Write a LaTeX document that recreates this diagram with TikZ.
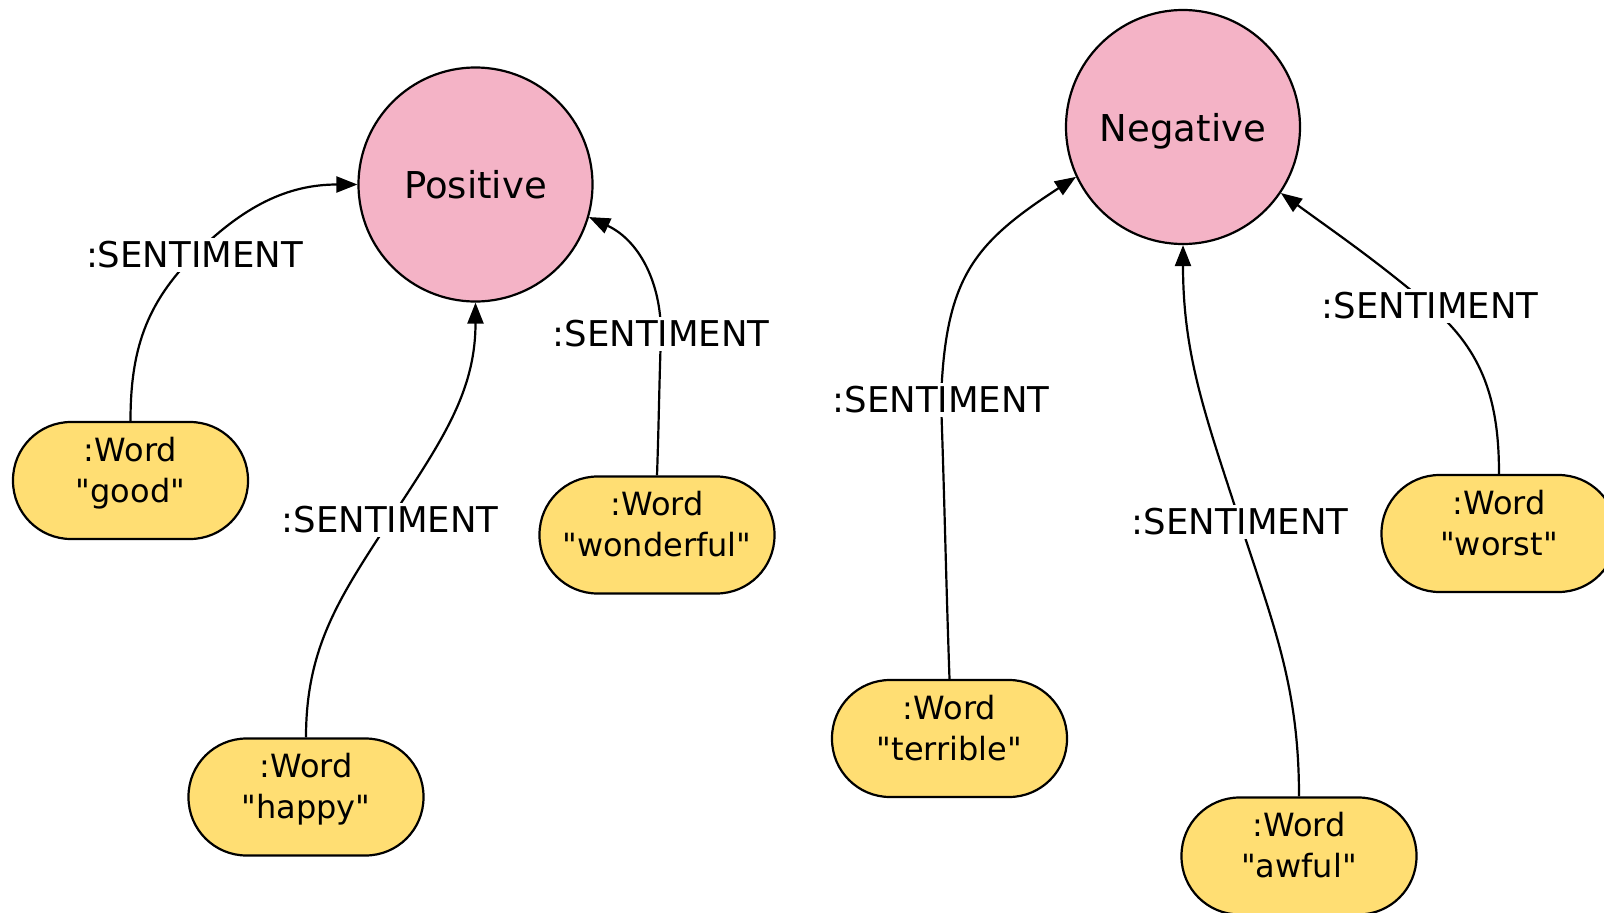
\documentclass[tikz,border=0pt]{standalone}
\usepackage{fontspec}
\setmainfont{DejaVu Sans}[Ligatures=TeXOff]
\usetikzlibrary{arrows.meta}
\definecolor{pinkfill}{RGB}{244,179,198}
\definecolor{yellowfill}{RGB}{255,222,115}
\begin{document}
\begin{tikzpicture}[x=1pt,y=1pt,
  sentnode/.style={circle, draw=black, fill=pinkfill, line width=2.2pt, minimum size=234pt, inner sep=0pt, text depth=0pt, font=\fontsize{37}{44}\selectfont},
  wordnode/.style={rectangle, rounded corners=58pt, draw=black, fill=yellowfill, line width=2.2pt, minimum width=235pt, minimum height=117pt, inner sep=0pt, align=center, text depth=22pt, font=\fontsize{32}{41}\selectfont},
  rellabel/.style={fill=white, inner sep=4pt, font=\fontsize{35.5}{40}\selectfont},
  rel/.style={line width=2.2pt, -{Triangle[length=21pt,width=16pt]}}
]
\useasboundingbox (0,0) rectangle (1604,-913);

% main nodes
\node[sentnode] (pos) at (475.5,-184.5) {Positive};
\node[sentnode] (neg) at (1183,-127) {Negative};
\node[wordnode] (good) at (130.5,-480.5) {:Word\\"good"};
\node[wordnode] (happy) at (306,-797) {:Word\\"happy"};
\node[wordnode] (wonderful) at (657,-535) {:Word\\"wonderful"};
\node[wordnode] (terrible) at (949.5,-738.5) {:Word\\"terrible"};
\node[wordnode] (awful) at (1299,-856) {:Word\\"awful"};
\node[wordnode] (worst) at (1499,-533.5) {:Word\\"worst"};

% label positions
\coordinate (L1) at (194.5,-255);
\coordinate (L2) at (390,-520);
\coordinate (L3) at (661,-334);
\coordinate (L4) at (941,-400);
\coordinate (L5) at (1240,-522);
\coordinate (L6) at (1430,-306);

% relationships
\draw[rel] (good.north) to[out=90,in=225] (L1) to[out=45,in=180] (pos.180);
\draw[rel] (happy.north) to[out=90,in=237] (L2) to[out=57,in=270] (pos.south);
\draw[rel] (wonderful.north) to[out=88,in=268] (L3) to[out=90,in=-25] (pos.-16);
\draw[rel] (terrible.north) to[out=92,in=272] (L4) to[out=88,in=213,looseness=1.2] (neg.205);
\draw[rel] (awful.north) to[out=90,in=288] (L5) to[out=108,in=270] (neg.south);
\draw[rel] (worst.north) to[out=90,in=-40] (L6) to[out=140,in=-36] (neg.-34);

% relationship labels
\node[rellabel] (t1) at (L1) {:SENTIMENT};
\node[rellabel] (t2) at (L2) {:SENTIMENT};
\node[rellabel] (t3) at (L3) {:SENTIMENT};
\node[rellabel] (t4) at (L4) {:SENTIMENT};
\node[rellabel] (t5) at (L5) {:SENTIMENT};
\node[rellabel] (t6) at (L6) {:SENTIMENT};
\end{tikzpicture}
\end{document}
